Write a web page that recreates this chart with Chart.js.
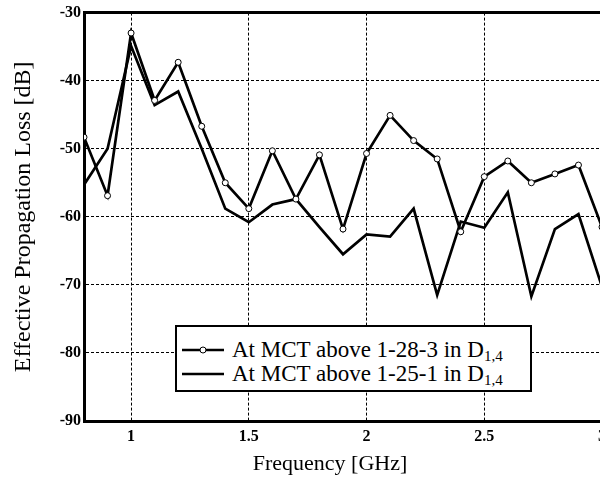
<!DOCTYPE html>
<html>
<head>
<meta charset="utf-8">
<script src="https://cdn.jsdelivr.net/npm/chart.js@4/dist/chart.umd.min.js"></script>
<style>
  html, body { margin: 0; padding: 0; background: #fff; overflow: hidden; }
  #wrap { position: relative; width: 600px; height: 478px; overflow: hidden; background: #fff; }
  #c { position: absolute; left: 0; top: 0; }
  .serif { font-family: 'Liberation Serif', 'Times New Roman', serif; color: #000; }
  #legend { position: absolute; left: 175px; top: 325px; width: 357px; height: 67px; box-sizing: border-box;
            border: 2px solid #000; background: #fff; padding-top: 11px; }
  .row { display: flex; align-items: center; height: 24px; font-size: 23px; line-height: 24px; white-space: nowrap; }
  .row svg { margin-left: 5px; margin-right: 8px; flex: none; }
  .row sub { font-size: 15px; vertical-align: -4px; line-height: 0; }
  #xtitle { position: absolute; left: 0; width: 660px; top: 451px; text-align: center; font-size: 22px; line-height: 24px; }
</style>
</head>
<body>
<div id="wrap">
  <canvas id="c" width="612" height="478"></canvas>
  <div id="legend" class="serif">
    <div class="row"><svg width="42" height="10"><line x1="0" y1="5" x2="42" y2="5" stroke="#000" stroke-width="2.5"/><circle cx="21" cy="5" r="3" fill="#fff" stroke="#000" stroke-width="1"/></svg><span>At MCT above 1-28-3 in D<sub>1,4</sub></span></div>
    <div class="row"><svg width="42" height="10"><line x1="0" y1="5" x2="42" y2="5" stroke="#000" stroke-width="2.5"/></svg><span>At MCT above 1-25-1 in D<sub>1,4</sub></span></div>
  </div>
  <div id="xtitle" class="serif">Frequency [GHz]</div>
</div>
<script>
// ---- data ----
const frequencies = [0.8, 0.9, 1.0, 1.1, 1.2, 1.3, 1.4, 1.5, 1.6, 1.7, 1.8, 1.9, 2.0, 2.1, 2.2, 2.3, 2.4, 2.5, 2.6, 2.7, 2.8, 2.9, 3.0];
const lossMCT_1_28_3 = [-48.3, -56.9, -33.0, -42.9, -37.3, -46.7, -55.0, -58.8, -50.3, -57.4, -50.9, -61.8, -50.7, -45.1, -48.8, -51.5, -62.2, -54.1, -51.8, -55.0, -53.7, -52.4, -61.5];
const lossMCT_1_25_1 = [-55.3, -50.0, -34.9, -43.6, -41.6, -50.0, -58.8, -60.8, -58.2, -57.4, -61.5, -65.5, -62.6, -62.9, -58.8, -71.5, -60.7, -61.6, -56.4, -71.7, -61.8, -59.6, -70.3];
const xTickValues = [1, 1.5, 2, 2.5, 3];
const yTickValues = [-90, -80, -70, -60, -50, -40, -30];
const seriesLabels = ['At MCT above 1-28-3 in D1,4', 'At MCT above 1-25-1 in D1,4'];
const yTitle = 'Effective Propagation Loss [dB]';

const toPts = (ys) => frequencies.map((f, i) => ({ x: f, y: ys[i] }));
const FONT = "'Liberation Serif', 'Times New Roman', serif";

new Chart(document.getElementById('c'), {
  type: 'line',
  data: {
    datasets: [
      { label: seriesLabels[0], data: toPts(lossMCT_1_28_3), borderColor: '#000', borderWidth: 2.7,
        pointRadius: 3, pointBorderWidth: 1, pointBackgroundColor: '#fff', pointBorderColor: '#000', tension: 0 },
      { label: seriesLabels[1], data: toPts(lossMCT_1_25_1), borderColor: '#000', borderWidth: 2.7,
        pointRadius: 0, tension: 0 }
    ]
  },
  options: {
    responsive: false,
    devicePixelRatio: 1,
    animation: false,
    layout: { padding: { left: 0, right: 8, top: 0, bottom: 0 } },
    plugins: { legend: { display: false }, tooltip: { enabled: false } },
    scales: {
      x: {
        type: 'linear', position: 'bottom', min: 0.8, max: 3.0,
        afterBuildTicks: (s) => { s.ticks = xTickValues.map(v => ({ value: v })); },
        afterFit: (s) => { s.height = 57; },
        ticks: { color: '#000', font: { family: FONT, size: 16, weight: 'bold' }, padding: 6, maxRotation: 0, autoSkip: false,
                 callback: (v) => String(v) },
        grid: { color: '#000', lineWidth: 1, drawTicks: false },
        border: { display: true, color: '#000', width: 3, dash: [3, 2] }
      },
      xTop: {
        type: 'linear', axis: 'x', position: 'top', min: 0.8, max: 3.0,
        afterFit: (s) => { s.height = 10; },
        ticks: { display: false },
        grid: { display: false, drawTicks: false },
        border: { display: true, color: '#000', width: 3 }
      },
      y: {
        type: 'linear', position: 'left', min: -90, max: -30,
        afterBuildTicks: (s) => { s.ticks = yTickValues.map(v => ({ value: v })); },
        afterFit: (s) => { s.width = 84; },
        ticks: { color: '#000', font: { family: FONT, size: 16, weight: 'bold' }, padding: 3, callback: (v) => String(v) },
        grid: { color: '#000', lineWidth: 1, drawTicks: false },
        border: { display: true, color: '#000', width: 3, dash: [3, 2] },
        title: { display: true, text: yTitle, color: '#000', font: { family: FONT, size: 24 }, padding: { top: 9, bottom: 0 } }
      }
    }
  }
});
</script>
</body>
</html>
